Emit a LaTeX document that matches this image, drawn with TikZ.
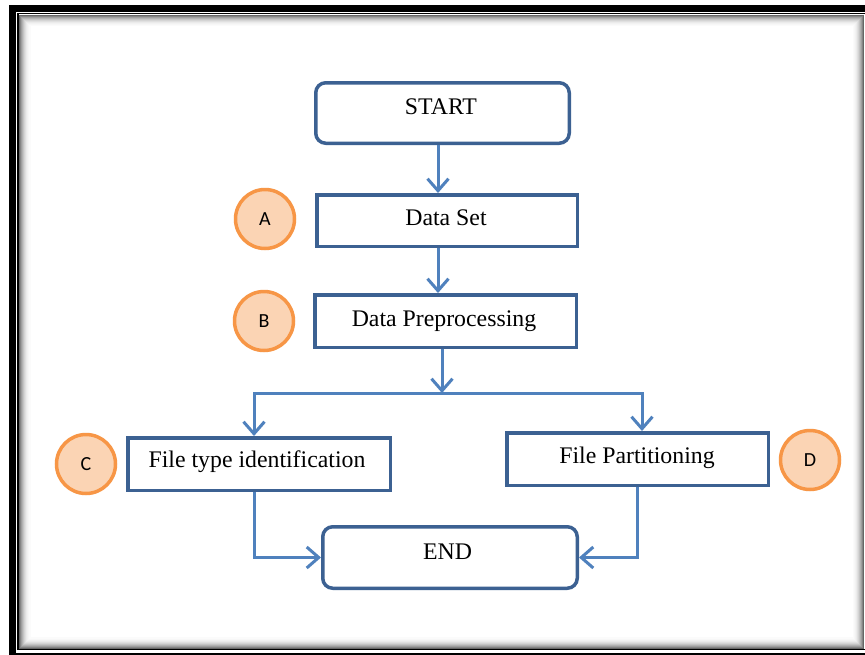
\documentclass[tikz,border=0pt]{standalone}
\usepackage{fontspec}
\setmainfont{Liberation Serif}
\newfontfamily\lblfont{Carlito}
\usetikzlibrary{arrows.meta}
\definecolor{boxblue}{HTML}{3C6192}
\definecolor{arrowblue}{HTML}{4F81BD}
\definecolor{orangeline}{HTML}{F79646}
\definecolor{orangefill}{HTML}{FBD4B4}
\tikzset{
  box/.style={draw=boxblue, line width=3.5pt, fill=white, inner sep=0pt},
  rbox/.style={box, rounded corners=10pt},
  txt/.style={font=\fontsize{23.8}{27}\selectfont, text height=15.5pt, text depth=0pt, inner sep=0pt},
  badge/.style={circle, draw=orangeline, fill=orangefill, line width=3.5pt, minimum size=59pt, inner sep=0pt, font=\lblfont\fontsize{20}{22}\selectfont},
  conn/.style={draw=arrowblue, line width=3pt},
  arr/.style={conn, -{Straight Barb[length=12pt,width=21pt]}}
}
\begin{document}
\begin{tikzpicture}[x=1pt,y=-1pt]
\useasboundingbox (0,0) rectangle (865,654);
\clip (0,0) rectangle (865,654);
% frame
\fill[white] (0,0) rectangle (865,654);
\draw[black, line width=7pt] (12.5,8) rectangle (872,656);
\draw[black, line width=1.5pt] (18,13.5) rectangle (866,649.5);
\foreach \i/\c in {0.5/60,1.5/48,2.5/38,3.5/30,4.5/23,5.5/17,6.5/12,7.5/8,8.5/5,9.5/3,10.5/1.5}{
  \draw[black!\c, line width=1.05pt] (19.5+\i,15+\i) rectangle (864-\i,648.5-\i);
}
% boxes
\node[rbox, minimum width=253.5pt, minimum height=60.5pt] (START) at (442.5,113) {};
\node[box, minimum width=260.5pt, minimum height=51.5pt] (DS) at (447,220.5) {};
\node[box, minimum width=261.5pt, minimum height=52.5pt] (DP) at (445.5,321) {};
\node[box, minimum width=262.5pt, minimum height=52.5pt] (FT) at (259,464) {};
\node[box, minimum width=261.5pt, minimum height=52.5pt] (FP) at (637.5,459) {};
\node[rbox, minimum width=254.5pt, minimum height=61.5pt] (END) at (450,557.5) {};
% texts
\node[txt] (tSTART) at (441,106.5) {START};
\node[txt] (tDS) at (446,218) {Data Set};
\node[txt] (tDP) at (444,319) {Data Preprocessing};
\node[txt] (tFT) at (257,459.5) {File type identification};
\node[txt] (tFP) at (637,456) {File Partitioning};
\node[txt] (tEND) at (447.5,552) {END};
% badges
\node[badge] (A) at (265,219) {A};
\node[badge] (B) at (264,321) {B};
\node[badge] (C) at (86,464) {C};
\node[badge] (D) at (810,460) {D};
% connectors
\coordinate (split) at (442,393);
\draw[arr] ([xshift=-4.5pt]START.south) -- ([xshift=-4.5pt]START.south |- DS.north);
\draw[arr] ([xshift=-9pt]DS.south) -- ([xshift=-9pt]DS.south |- DP.north);
\draw[arr] (DP.south -| split) -- (split);
\draw[arr] (split) -| ([xshift=-5pt]FT.north);
\draw[arr] (split) -| ([xshift=4.5pt]FP.north);
\draw[arr] ([xshift=-5pt]FT.south) |- (END.west);
\draw[arr] (FP.south) |- (END.east);
\end{tikzpicture}
\end{document}
